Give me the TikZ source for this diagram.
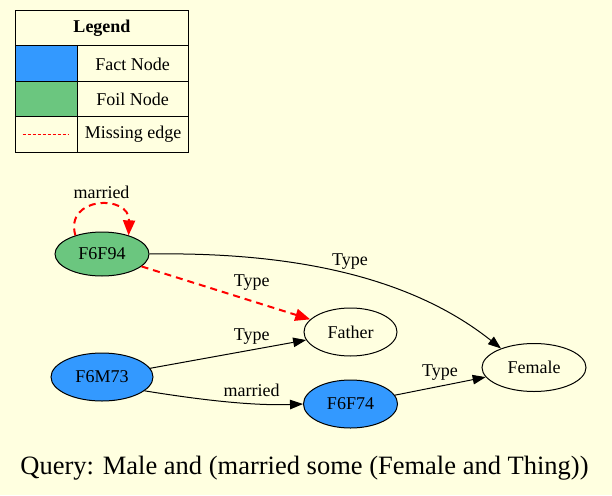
\documentclass[tikz,border=0pt]{standalone}
\usepackage{fontspec}
\setmainfont{Liberation Serif}
\usetikzlibrary{arrows.meta,shapes.geometric}
\definecolor{bgyellow}{HTML}{FFFFE0}
\definecolor{factblue}{HTML}{3399FF}
\definecolor{foilgreen}{HTML}{6BC67F}
\tikzset{
  nd/.style={ellipse,draw=black,line width=1pt,inner sep=0pt,font=\fontsize{18}{20}\selectfont},
  lbl/.style={inner sep=0pt,font=\fontsize{18}{20}\selectfont},
  edge/.style={draw=black,line width=1pt,-{Triangle[length=13pt,width=9.5pt]}},
  missing/.style={draw=red,line width=2pt,dash pattern=on 7pt off 5pt,-{Triangle[length=15pt,width=12pt]}},
  cell/.style={draw=black,line width=1pt}
}
\begin{document}
\begin{tikzpicture}[x=1pt,y=-1pt]
\fill[bgyellow] (0,0) rectangle (612,495);
\useasboundingbox (0,0) rectangle (612,495);
% legend
\draw[cell] (15,11) rectangle (188,152);
\draw[cell] (15,46) -- (188,46);
\draw[cell] (15,81) -- (188,81);
\draw[cell] (15,116) -- (188,116);
\draw[cell] (77,46) -- (77,152);
\fill[factblue] (15.5,46.5) rectangle (76.5,80.5);
\fill[foilgreen] (15.5,81.5) rectangle (76.5,115.5);
\node[lbl,font=\fontsize{18}{20}\selectfont\bfseries] (lgtitle) at (102,28) {Legend};
\node[lbl] (lgfact) at (132.5,64) {Fact Node};
\node[lbl] (lgfoil) at (132.5,99) {Foil Node};
\node[lbl] (lgmiss) at (133,134) {Missing edge};
\coordinate (lga) at (22.5,134);
\coordinate (lgb) at (69,134);
\draw[red,line width=0.7pt,dash pattern=on 3pt off 2pt] (lga) -- (lgb);
% nodes
\node[nd,fill=foilgreen,minimum width=94pt,minimum height=44pt] (f94) at (102,254) {F6F94};
\node[nd,fill=factblue,minimum width=102pt,minimum height=48pt] (m73) at (102,377) {F6M73};
\node[nd,fill=bgyellow,minimum width=93pt,minimum height=48pt] (father) at (350.5,332) {Father};
\node[nd,fill=factblue,minimum width=94pt,minimum height=48pt] (f74) at (350.5,404) {F6F74};
\node[nd,fill=bgyellow,minimum width=104pt,minimum height=48pt] (female) at (534,367.5) {Female};
% edges
\draw[missing] (f94.145) .. controls (64,196) and (130,194) .. (f94.35);
\node[lbl] (l1) at (101.5,192) {married};
\draw[edge] (f94.east) .. controls (280,252) and (405,272) .. (female.150);
\node[lbl] (l2) at (350,262) {Type};
\draw[missing] (f94) -- (father);
\node[lbl] (l3) at (251.7,283) {Type};
\draw[edge] (m73) -- (father);
\node[lbl] (l4) at (251.7,337) {Type};
\draw[edge] (m73.-18) .. controls (195,399) and (250,406) .. (f74.west);
\node[lbl] (l5) at (251.7,390) {married};
\draw[edge] (f74) -- (female);
\node[lbl] (l6) at (440,373) {Type};
% title
\node[inner sep=0pt,font=\fontsize{26.5}{30}\selectfont] (title) at (304.5,468) {Query: Male and (married some (Female and Thing))};
\end{tikzpicture}
\end{document}
